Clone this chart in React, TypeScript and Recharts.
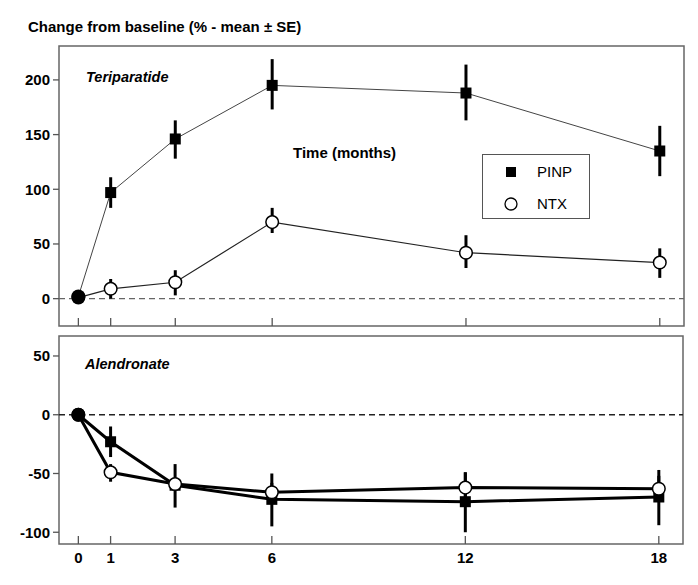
import React from 'react'
import { LineChart, Line, XAxis, YAxis, ErrorBar, ReferenceLine, ReferenceArea, Legend } from 'recharts'

const months = [0, 1, 3, 6, 12, 18]
const xTicks = [0, 1, 3, 6, 12, 18]
const seriesNames = ['PINP', 'NTX']

// Teriparatide panel (error bars as [minus, plus])
const teriPinp = [2, 97, 146, 195, 188, 135]
const teriPinpErr = [[0, 0], [14, 14], [18, 17], [22, 24], [25, 26], [23, 23]]
const teriNtx = [1, 9, 15, 70, 42, 33]
const teriNtxErr = [[0, 0], [9, 9], [12, 11], [10, 13], [14, 16], [14, 13]]
const teriTicks = [0, 50, 100, 150, 200]

// Alendronate panel
const alenPinp = [0, -23, -60, -72, -74, -70]
const alenPinpErr = [[0, 0], [13, 13], [19, 18], [23, 22], [26, 25], [24, 23]]
const alenNtx = [0, -49, -59, -66, -62, -63]
const alenNtxErr = [[0, 0], [8, 7], [4, 4], [8, 8], [13, 13], [11, 11]]
const alenTicks = [-100, -50, 0, 50]

const xDomain = [-0.6, 18.75]
const teriDomain = [-25, 231]
const alenDomain = [-110, 67]

const teriData = months.map((m, i) => ({
  month: m,
  pinp: teriPinp[i],
  pinpErr: teriPinpErr[i],
  ntx: teriNtx[i],
  ntxErr: teriNtxErr[i],
}))

const alenData = months.map((m, i) => ({
  month: m,
  pinp: alenPinp[i],
  pinpErr: alenPinpErr[i],
  ntx: alenNtx[i],
  ntxErr: alenNtxErr[i],
}))

const FONT = '"Liberation Sans", Arial, Helvetica, sans-serif'

const SquareDot = (props: any) => {
  const { cx, cy, index, payload } = props
  if (cx == null || cy == null) return null
  if (payload.month === 0) return <circle key={`sq${index}`} cx={cx} cy={cy} r={7} fill="#000" />
  return <rect key={`sq${index}`} x={cx - 5.5} y={cy - 5.5} width={11} height={11} fill="#000" />
}

const CircleDot = (props: any) => {
  const { cx, cy, index, payload } = props
  if (cx == null || cy == null) return null
  if (payload.month === 0) return <circle key={`ci${index}`} cx={cx} cy={cy} r={7} fill="#000" />
  return <circle key={`ci${index}`} cx={cx} cy={cy} r={6.3} fill="#fff" stroke="#000" strokeWidth={1.5} />
}

// tick sits at the frame line (tickSize 0, tickMargin 0): draw an inward mark, optional label below
const makeXTick = (showLabel: boolean) => (props: any) => {
  const { x, y, payload } = props
  return (
    <g>
      <line x1={x} y1={y} x2={x} y2={y - 8} stroke="#555" strokeWidth={1.3} />
      {showLabel && (
        <text x={x} y={y + 19} textAnchor="middle" fontSize={15} fontWeight="bold" fill="#000" fontFamily={FONT}>
          {payload.value}
        </text>
      )}
    </g>
  )
}

const yTick = { fontSize: 15, fontWeight: 'bold', fill: '#000', fontFamily: FONT }

const LegendBox = () => (
  <div
    style={{
      width: 108,
      height: 65,
      boxSizing: 'border-box',
      border: '1px solid #555',
      background: '#fff',
      position: 'relative',
      fontFamily: FONT,
      fontSize: 15,
    }}
  >
    {seriesNames.map((name, i) => (
      <div key={name} style={{ position: 'absolute', left: 0, top: 8 + i * 32, height: 18, width: '100%' }}>
        <svg width={20} height={18} style={{ position: 'absolute', left: 18, top: 0 }}>
          {i === 0 ? (
            <rect x={5} y={4} width={10} height={10} fill="#000" />
          ) : (
            <circle cx={10} cy={9} r={6} fill="#fff" stroke="#000" strokeWidth={1.3} />
          )}
        </svg>
        <span style={{ position: 'absolute', left: 54, top: 0, lineHeight: '18px', color: '#000' }}>{name}</span>
      </div>
    ))}
  </div>
)

const textStyle: React.CSSProperties = {
  position: 'absolute',
  fontFamily: FONT,
  fontWeight: 'bold',
  color: '#000',
  whiteSpace: 'nowrap',
  lineHeight: '16px',
}

export default function App() {
  return (
    <div style={{ position: 'relative', width: 698, height: 585, margin: -8, background: '#fff', fontFamily: FONT }}>
      <div style={{ position: 'absolute', left: 0, top: 0 }}>
        <LineChart width={698} height={340} data={teriData} margin={{ top: 46, right: 14, left: 0, bottom: 4 }}>
          <XAxis
            dataKey="month"
            type="number"
            domain={xDomain}
            ticks={xTicks}
            interval={0}
            allowDataOverflow
            height={10}
            axisLine={false}
            tickLine={false}
            tickSize={0}
            tickMargin={0}
            tick={makeXTick(false)}
          />
          <YAxis
            type="number"
            domain={teriDomain}
            ticks={teriTicks}
            interval={0}
            allowDataOverflow
            width={59}
            axisLine={false}
            tickSize={6}
            tickMargin={3}
            tickLine={{ stroke: '#555', strokeWidth: 1.3 }}
            tick={yTick}
          />
          <ReferenceArea x1={xDomain[0]} x2={xDomain[1]} y1={teriDomain[0]} y2={teriDomain[1]} fill="none" stroke="#666" strokeWidth={1.5} fillOpacity={0} />
          <ReferenceLine y={0} stroke="#666" strokeDasharray="6 4" strokeWidth={1.2} />
          <Line
            dataKey="pinp"
            stroke="#444"
            strokeWidth={1}
            isAnimationActive={false}
            dot={SquareDot}
            activeDot={false}
          >
            <ErrorBar dataKey="pinpErr" width={0} strokeWidth={3} stroke="#000" direction="y" />
          </Line>
          <Line
            dataKey="ntx"
            stroke="#222"
            strokeWidth={1.2}
            isAnimationActive={false}
            dot={CircleDot}
            activeDot={false}
          >
            <ErrorBar dataKey="ntxErr" width={0} strokeWidth={3} stroke="#000" direction="y" />
          </Line>
          <Legend
            layout="vertical"
            align="center"
            verticalAlign="middle"
            content={LegendBox}
            wrapperStyle={{ left: 482, top: 154, width: 108, height: 65 }}
          />
        </LineChart>
      </div>

      <div style={{ position: 'absolute', left: 0, top: 320 }}>
        <LineChart width={698} height={265} data={alenData} margin={{ top: 16, right: 15, left: 0, bottom: 11 }}>
          <XAxis
            dataKey="month"
            type="number"
            domain={xDomain}
            ticks={xTicks}
            interval={0}
            allowDataOverflow
            height={30}
            axisLine={false}
            tickLine={false}
            tickSize={0}
            tickMargin={0}
            tick={makeXTick(true)}
          />
          <YAxis
            type="number"
            domain={alenDomain}
            ticks={alenTicks}
            interval={0}
            allowDataOverflow
            width={59}
            axisLine={false}
            tickSize={6}
            tickMargin={3}
            tickLine={{ stroke: '#555', strokeWidth: 1.3 }}
            tick={yTick}
          />
          <ReferenceArea x1={xDomain[0]} x2={xDomain[1]} y1={alenDomain[0]} y2={alenDomain[1]} fill="none" stroke="#666" strokeWidth={1.5} fillOpacity={0} />
          <ReferenceLine y={0} stroke="#222" strokeDasharray="6 4" strokeWidth={1.6} />
          <Line
            dataKey="pinp"
            stroke="#000"
            strokeWidth={3}
            isAnimationActive={false}
            dot={SquareDot}
            activeDot={false}
          >
            <ErrorBar dataKey="pinpErr" width={0} strokeWidth={3} stroke="#000" direction="y" />
          </Line>
          <Line
            dataKey="ntx"
            stroke="#000"
            strokeWidth={3}
            isAnimationActive={false}
            dot={CircleDot}
            activeDot={false}
          >
            <ErrorBar dataKey="ntxErr" width={0} strokeWidth={3} stroke="#000" direction="y" />
          </Line>
        </LineChart>
      </div>

      <div style={{ ...textStyle, left: 28, top: 19, fontSize: 15 }}>Change from baseline (% - mean ± SE)</div>
      <div style={{ ...textStyle, left: 86, top: 69, fontSize: 14.5, fontStyle: 'italic' }}>Teriparatide</div>
      <div style={{ ...textStyle, left: 293, top: 145, fontSize: 15 }}>Time (months)</div>
      <div style={{ ...textStyle, left: 85, top: 356, fontSize: 14.5, fontStyle: 'italic' }}>Alendronate</div>
    </div>
  )
}
